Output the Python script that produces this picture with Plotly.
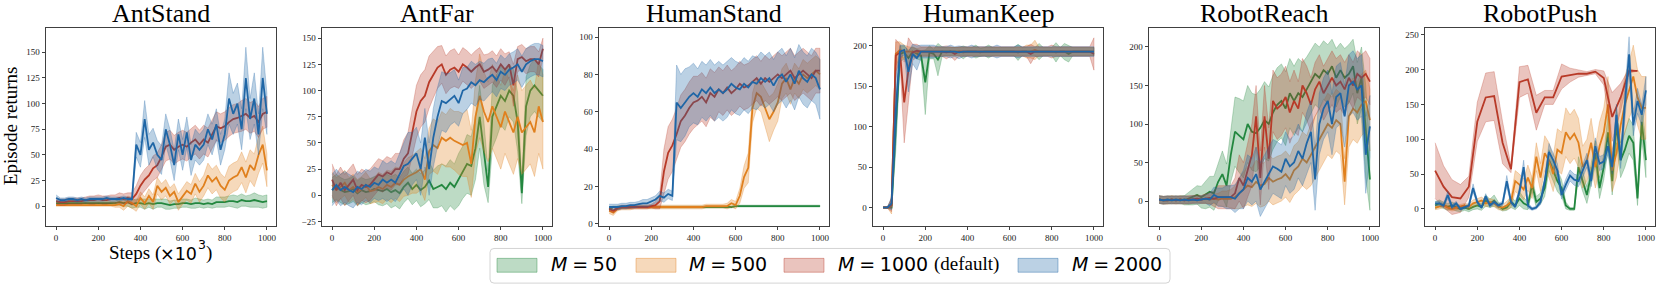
import plotly.graph_objects as go

W, H = 1660, 296

# ---------------- data ----------------
steps = list(range(0, 1001, 20))          # 51 points
steps_push_red = list(range(0, 961, 40))  # 25 points

titles = ["AntStand", "AntFar", "HumanStand", "HumanKeep", "RobotReach", "RobotPush"]
series_names = ["M = 50", "M = 500", "M = 1000 (default)", "M = 2000"]

# AntStand
antstand_m50 = [3,3,3,3,3,3,3,3,3,3, 3,3,3,3,3,4,3,4,2,3, 3,2,3,2,3,3,2,1,2,2, 3,3,2,3,3,2,3,2,4,4, 4,5,5,4,6,5,5,6,5,4,5]
antstand_m50_sd = [2,2,2,2,2,2,2,2,2,2, 2,2,2,2,2,3,3,4,4,4, 4,5,4,5,4,4,5,4,4,4, 4,4,4,5,4,4,4,4,5,5, 5,5,6,6,6,5,6,7,6,6,6]
antstand_m500 = [1,1,1,1,1,1,1,1,1,1, 1,1,1,1,1,2,0,5,3,0, 8,3,10,4,20,14,18,10,14,4, 10,15,12,22,14,20,30,24,28,20, 16,25,28,30,38,28,40,35,50,60,35]
antstand_m500_sd = [1,1,1,1,1,1,1,1,1,1, 1,1,1,1,2,3,4,5,5,5, 6,6,7,7,8,8,8,8,8,8, 8,9,9,10,10,10,12,12,12,12, 12,14,14,14,15,15,15,16,18,18,16]
antstand_m1000 = [5,4,4,5,5,5,5,6,6,6, 7,6,6,7,7,8,7,8,7,12, 20,26,30,37,40,48,58,60,55,58, 60,58,62,65,60,65,62,70,78,76, 78,82,85,86,88,90,86,88,82,90,92]
antstand_m1000_sd = [3,3,3,3,3,3,3,3,4,4, 4,4,4,4,4,5,5,5,6,8, 10,10,10,12,12,12,14,14,14,14, 14,14,14,14,14,14,14,14,14,14, 14,14,14,14,15,15,15,15,15,15,15]
antstand_m2000 = [8,6,6,7,7,6,7,6,7,7, 7,7,8,7,7,7,8,7,7,60, 50,85,55,62,50,45,75,60,40,70, 50,72,45,60,55,60,75,65,80,55, 70,105,90,100,75,125,85,105,70,125,90]
antstand_m2000_sd = [3,2,2,2,2,2,2,2,2,2, 2,2,2,2,2,2,2,2,2,12, 12,18,15,14,14,14,15,15,15,15, 15,15,15,15,15,15,15,15,15,15, 15,25,20,20,20,30,20,25,20,30,20]

# AntFar
antfar_m50 = [5,8,5,3,4,6,2,5,3,4, 6,5,4,6,3,5,2,8,12,6, 10,5,8,14,6,8,10,6,12,8, 15,22,30,28,45,75,40,8,75,85, 95,90,100,95,70,2,85,100,105,100,95]
antfar_m50_sd = [12,12,12,12,12,12,12,12,12,12, 12,14,14,14,15,15,15,15,15,15, 15,16,16,18,18,20,20,22,22,22, 25,25,28,28,30,30,30,15,30,30, 28,28,25,25,28,10,28,25,25,25,25]
antfar_m500 = [10,5,8,12,5,8,3,6,10,4, 5,8,6,10,8,12,10,15,18,20, 22,25,15,42,48,45,55,52,55,52, 50,48,50,30,75,95,80,70,85,75, 65,80,70,60,75,60,65,70,60,85,70]
antfar_m500_sd = [12,12,12,12,12,12,12,12,12,12, 12,14,14,14,15,15,16,16,18,18, 20,20,20,22,25,25,25,25,28,28, 30,30,32,32,35,40,38,38,40,40, 40,40,40,40,40,40,40,40,42,45,45]
antfar_m1000 = [15,5,12,5,10,15,5,10,8,10, 15,20,18,22,20,25,25,35,40,60, 80,90,95,108,115,122,125,115,120,122, 118,125,122,118,122,125,118,120,123,118, 125,120,125,105,130,132,128,130,130,125,140]
antfar_m1000_sd = [15,15,15,15,15,15,15,15,15,15, 15,15,15,15,15,15,15,18,20,22, 25,25,25,25,22,20,18,18,18,18, 16,16,16,16,16,16,16,15,15,15, 15,15,12,20,12,12,12,12,12,12,10]
antfar_m2000 = [5,10,5,8,5,3,8,6,10,8, 12,10,15,12,15,12,20,28,30,35, 40,25,55,25,55,75,90,88,92,95, 88,100,102,108,105,110,108,112,115,110, 118,115,120,122,125,118,125,128,130,130,128]
antfar_m2000_sd = [15,15,15,15,15,15,15,15,15,15, 15,15,18,18,18,18,20,22,30,25, 25,25,28,25,28,28,28,28,25,25, 22,22,20,20,20,18,18,18,16,16, 16,15,15,15,15,15,15,15,15,15,15]

# HumanStand
humanstand_m50 = [8,9,9,9,9,9,9,9,9,9, 9,9,9,9,9,9,9,9,9,9, 9,9,9,9,9,9,9,9,9,9, 9.5,9.5,9.5,9.5,9.5,9.5,9.5,9.5,9.5,9.5, 9.5,9.5,9.5,9.5,9.5,9.5,9.5,9.5,9.5,9.5,9.5]
humanstand_m50_sd = [1,0.5,0.5,0.5,0.5,0.5,0.5,0.5,0.5,0.5, 0.5,0.5,0.5,0.5,0.5,0.5,0.5,0.5,0.5,0.5, 0.5,0.5,0.5,0.5,0.5,0.5,0.5,0.5,0.5,0.5, 0.5,0.5,0.5,0.5,0.5,0.5,0.5,0.5,0.5,0.5, 0.5,0.5,0.5,0.5,0.5,0.5,0.5,0.5,0.5,0.5,0.5]
humanstand_m500 = [7,6,8,8.5,8.5,8.5,9,9,9,9, 9,9,9,9,9,9,9,9,9,9, 9,9,9,9.5,9.5,9.5,9.5,9.5,9.5,11, 10,15,25,30,62,70,68,62,56,60, 65,75,78,72,78,75,80,78,80,82,80]
humanstand_m500_sd = [1.5,1.5,1,1,1,1,1,1,1,1, 1,1,1,1,1,1,1,1,1,1, 1,1,1,1,1,1,1,1,1.5,2, 2,4,6,8,8,8,8,10,12,10, 10,8,8,8,8,8,8,8,8,8,8]
humanstand_m1000 = [8,7,8.5,9,9,9,9,9,9,9, 9.5,10,12,28,38,42,48,55,58,62, 65,66,68,65,70,68,72,70,73,70, 72,75,73,74,76,78,75,78,76,78, 80,78,80,82,78,80,82,80,78,82,82]
humanstand_m1000_sd = [1,1,1,1,1,1,1,1,1,1, 1,2,4,12,14,14,14,14,14,14, 14,13,13,13,13,13,12,12,12,12, 12,12,12,12,12,12,12,12,12,12, 12,12,12,12,12,12,12,12,12,12,12]
humanstand_m2000 = [9,9,9,9.5,9.5,10,10,10.5,11,11, 12,13,15,14,16,15,65,62,65,68, 70,68,72,70,73,70,72,70,72,75, 73,72,75,73,76,75,78,76,78,74, 78,80,76,80,75,82,78,76,80,78,72]
humanstand_m2000_sd = [1.5,1.5,1.5,1.5,1.5,1.5,1.5,1.5,2,2, 2,2,2.5,2.5,2.5,2.5,20,18,18,16, 16,15,15,15,15,15,15,15,15,14, 14,14,14,14,14,14,14,14,14,14, 14,14,14,14,14,14,14,14,14,14,16]

# HumanKeep
humankeep_m50 = [0,0,0,100,190,192,185,193,190,188, 155,192,190,183,193,193,193,193,193,192, 193,193,193,192,193,193,193,193,193,193, 193,193,192,193,193,193,193,193,193,193, 193,192,193,193,190,193,193,193,193,193,193]
humankeep_m50_sd = [0,0,1,30,10,8,10,6,6,6, 40,8,6,20,6,5,5,5,5,8, 5,5,8,5,5,8,5,5,5,5, 5,5,10,5,5,5,5,10,5,5, 5,12,5,10,10,5,5,5,5,5,5]
humankeep_m500 = [0,0,2,190,195,193,193,193,192,193, 193,193,193,193,193,193,193,193,193,193, 193,193,193,193,193,193,193,193,193,193, 193,193,193,193,193,193,195,193,193,193, 193,193,193,193,193,193,193,193,193,193,193]
humankeep_m500_sd = [0,0,10,15,10,8,6,5,5,5, 5,5,5,5,5,5,5,5,5,5, 5,5,5,5,5,5,5,5,5,5, 5,5,5,5,8,8,12,5,5,5, 5,5,5,5,5,5,5,5,5,5,5]
humankeep_m1000 = [0,0,3,188,192,130,170,192,194,193, 193,193,193,193,193,192,193,190,193,193, 193,193,193,193,193,193,193,193,193,193, 193,193,193,193,193,190,193,193,193,193, 193,193,193,193,193,193,193,193,193,193,190]
humankeep_m1000_sd = [0,1,8,20,10,50,40,10,8,6, 6,6,6,6,6,8,6,8,6,6, 6,6,6,6,6,6,6,6,6,6, 6,6,6,6,6,12,6,6,6,6, 8,6,6,6,6,6,6,6,6,6,20]
humankeep_m2000 = [0,0,5,120,193,195,168,190,185,193, 193,193,193,193,193,193,193,193,192,193, 193,193,193,193,193,193,193,193,193,193, 193,193,193,193,193,193,193,193,193,193, 193,193,193,193,193,193,193,193,193,193,193]
humankeep_m2000_sd = [0,0,8,40,8,6,25,12,15,8, 8,8,8,6,6,6,8,6,8,6, 6,8,6,6,6,6,6,8,6,6, 6,6,8,6,6,6,6,6,6,6, 6,6,6,6,6,6,6,6,6,6,6]

# RobotReach
robotreach_m50 = [2,1,1,2,1,2,1,3,5,8, 5,8,12,10,25,35,20,60,90,85, 80,100,90,88,95,105,100,115,125,130, 120,140,130,140,135,145,155,165,160,170, 165,175,160,170,160,165,175,140,160,90,28]
robotreach_m50_sd = [5,5,5,5,5,5,6,8,10,12, 14,18,20,22,25,30,28,35,45,48, 50,50,50,50,50,50,48,48,48,48, 48,45,45,45,45,42,42,40,40,38, 38,35,38,35,38,38,35,40,40,60,40]
robotreach_m500 = [2,1,2,1,2,1,2,1,2,1, 2,3,2,3,2,3,3,3,5,10, 15,20,18,25,20,22,30,25,28,30, 35,28,40,45,55,50,60,70,80,90, 100,95,105,100,25,110,120,115,125,130,105]
robotreach_m500_sd = [5,5,5,5,5,5,5,5,5,5, 5,6,6,6,8,10,10,12,15,20, 22,25,25,28,28,28,30,30,30,30, 30,30,32,32,35,35,40,40,40,40, 40,40,40,40,30,40,40,40,40,40,40]
robotreach_m1000 = [2,1,1,2,1,2,1,2,2,3, 2,3,4,3,5,5,5,5,10,30, 20,40,60,110,30,110,55,130,120,125, 135,115,130,120,150,140,125,145,155,140, 150,160,150,155,145,160,150,165,160,165,155]
robotreach_m1000_sd = [5,5,5,5,5,5,5,5,5,5, 5,6,8,10,15,15,15,15,20,30, 30,35,40,40,35,40,40,40,40,40, 40,40,40,35,35,35,35,35,35,35, 35,35,35,35,35,30,30,30,30,30,30]
robotreach_m2000 = [2,1,2,1,2,1,2,1,2,1, 2,3,2,8,5,5,5,5,3,10, 15,30,25,35,15,25,35,45,42,38, 55,45,50,65,55,75,90,28,100,120, 130,100,135,140,110,150,155,145,150,60,97]
robotreach_m2000_sd = [5,5,5,5,5,5,5,5,5,5, 5,6,8,10,12,12,15,15,18,20, 25,30,30,35,35,35,35,35,35,35, 35,35,35,35,35,40,40,40,40,40, 40,40,40,40,40,40,40,40,40,50,40]

# RobotPush
robotpush_m50 = [5,8,5,3,5,2,0,2,0,3, 5,3,12,8,12,5,0,2,10,5, 15,8,5,35,10,15,30,70,55,40, 30,5,0,0,60,40,20,50,80,30, 60,110,40,120,70,85,105,95,15,125,70]
robotpush_m50_sd = [5,5,5,5,5,5,4,4,4,4, 5,5,8,6,8,5,3,4,8,6, 10,8,6,10,8,8,12,15,15,15, 12,5,2,2,15,15,12,15,18,15, 18,25,20,25,25,25,25,25,10,25,25]
robotpush_m500 = [2,3,5,2,0,2,3,5,3,8, 10,12,8,10,8,3,2,5,10,40, 35,28,45,30,75,45,80,70,50,85, 80,110,100,108,95,60,70,95,60,90, 110,150,55,80,120,150,170,190,160,145,145]
robotpush_m500_sd = [3,3,3,3,3,3,3,3,4,5, 5,5,5,5,5,4,4,6,8,15, 15,15,18,15,20,20,25,25,25,30, 30,35,35,35,35,30,30,35,30,35, 35,40,30,35,35,40,40,45,40,45,45]
robotpush_m1000 = [55,32,17,15,32,125,160,162,95,57, 182,186,138,160,160,190,192,194,194,197, 188,132,160,198,198]
robotpush_m1000_sd = [40,30,25,20,15,28,35,35,30,5, 22,20,25,10,10,18,10,5,3,3, 10,35,20,3,0]
robotpush_m2000 = [8,8,5,20,3,8,0,2,5,30, 10,2,18,5,10,5,8,40,10,3, 25,60,5,0,2,10,40,82,70,55, 20,35,48,42,40,55,70,40,90,65, 68,90,60,135,70,150,222,120,155,135,170]
robotpush_m2000_sd = [3,3,3,5,3,3,2,2,3,6, 3,2,4,3,3,3,3,8,4,2, 6,10,4,2,2,4,6,12,10,10, 6,8,8,8,8,10,10,8,12,10, 10,12,10,15,12,18,25,15,18,15,20]

y_tickvals = [
    [0, 25, 50, 75, 100, 125, 150],
    [-25, 0, 25, 50, 75, 100, 125, 150],
    [0, 20, 40, 60, 80, 100],
    [0, 50, 100, 150, 200],
    [0, 50, 100, 150, 200],
    [0, 50, 100, 150, 200, 250],
]
x_tickvals = [0, 200, 400, 600, 800, 1000]

# ---------------- styling ----------------
line_colors = ["#23873f", "#e0801e", "#b83a28", "#1f66a6"]
rgb = [(35, 135, 63), (224, 128, 30), (184, 58, 40), (31, 102, 166)]
y_ranges = [[-19, 174], [-29, 160], [-1, 105], [-22.5, 222.5], [-32, 225], [-24, 260]]
x_range = [-48, 1043]
panel_left_px = [46, 322, 599, 873, 1149, 1425]
panel_w_px = 230
top_px, bottom_px = 28, 228

panel_data = [
    [(steps, antstand_m50, antstand_m50_sd), (steps, antstand_m500, antstand_m500_sd),
     (steps, antstand_m1000, antstand_m1000_sd), (steps, antstand_m2000, antstand_m2000_sd)],
    [(steps, antfar_m50, antfar_m50_sd), (steps, antfar_m500, antfar_m500_sd),
     (steps, antfar_m1000, antfar_m1000_sd), (steps, antfar_m2000, antfar_m2000_sd)],
    [(steps, humanstand_m50, humanstand_m50_sd), (steps, humanstand_m500, humanstand_m500_sd),
     (steps, humanstand_m1000, humanstand_m1000_sd), (steps, humanstand_m2000, humanstand_m2000_sd)],
    [(steps, humankeep_m50, humankeep_m50_sd), (steps, humankeep_m500, humankeep_m500_sd),
     (steps, humankeep_m1000, humankeep_m1000_sd), (steps, humankeep_m2000, humankeep_m2000_sd)],
    [(steps, robotreach_m50, robotreach_m50_sd), (steps, robotreach_m500, robotreach_m500_sd),
     (steps, robotreach_m1000, robotreach_m1000_sd), (steps, robotreach_m2000, robotreach_m2000_sd)],
    [(steps, robotpush_m50, robotpush_m50_sd), (steps, robotpush_m500, robotpush_m500_sd),
     (steps_push_red, robotpush_m1000, robotpush_m1000_sd), (steps, robotpush_m2000, robotpush_m2000_sd)],
]

SERIF = "Liberation Serif, Times New Roman, serif"
SANS = "DejaVu Sans, sans-serif"

fig = go.Figure()
layout = dict(
    width=W, height=H, margin=dict(l=0, r=0, t=0, b=0),
    paper_bgcolor="white", plot_bgcolor="white", showlegend=False,
)

def px_x(p):
    return p / W

def px_y(p):
    return 1 - p / H

annotations = []
shapes = []

def add_text(text, x, y, family, size, xanchor="center", angle=0):
    annotations.append(dict(
        text=text, x=px_x(x), y=px_y(y), xref="paper", yref="paper",
        xanchor=xanchor, yanchor="middle", showarrow=False, textangle=angle,
        borderpad=0, borderwidth=0,
        font=dict(family=family, size=size, color="black")))

for i in range(6):
    k = i + 1
    xs = "x" if k == 1 else f"x{k}"
    ys = "y" if k == 1 else f"y{k}"
    for j, (xv, mean, sd) in enumerate(panel_data[i]):
        r, g, b = rgb[j]
        upper = [m + s for m, s in zip(mean, sd)]
        lower = [m - s for m, s in zip(mean, sd)]
        fig.add_trace(go.Scatter(
            x=list(xv) + list(xv)[::-1], y=upper + lower[::-1],
            fill="toself", fillcolor=f"rgba({r},{g},{b},0.3)",
            line=dict(color=f"rgba({r},{g},{b},0.35)", width=0.8),
            mode="lines", hoverinfo="skip", xaxis=xs, yaxis=ys))
        fig.add_trace(go.Scatter(
            x=xv, y=mean, mode="lines",
            line=dict(color=line_colors[j], width=1.8),
            name=series_names[j], xaxis=xs, yaxis=ys))

    x0 = panel_left_px[i]
    x1 = x0 + panel_w_px
    axis_common = dict(
        showline=True, linecolor="#404040", linewidth=1, mirror=True,
        showgrid=False, zeroline=False, ticks="outside", ticklen=3.5,
        tickwidth=1, tickcolor="#404040",
        tickfont=dict(family=SERIF, size=9, color="#222"),
    )
    layout["xaxis" if k == 1 else f"xaxis{k}"] = dict(
        domain=[px_x(x0), px_x(x1)], range=x_range, tickvals=x_tickvals,
        anchor=ys, **axis_common)
    layout["yaxis" if k == 1 else f"yaxis{k}"] = dict(
        domain=[px_y(bottom_px), px_y(top_px)], range=y_ranges[i],
        tickvals=y_tickvals[i], anchor=xs, **axis_common)
    add_text(titles[i], (x0 + x1) / 2, 14, SERIF, 26)

# axis titles (first panel)
add_text("Episode returns", 10.5, 127, SERIF, 19, angle=-90)
add_text("Steps (", 160.5, 256, SERIF, 19, xanchor="right")
add_text("×10", 160, 256.5, SANS, 17.5, xanchor="left")
add_text("3", 197.5, 247, SANS, 12.5, xanchor="left")
add_text(")", 205.5, 256, SERIF, 19, xanchor="left")

# legend (drawn as a framed row of patches)
lx0, lx1, ly0, ly1, rad = 490, 1170, 251, 286, 4
path = (f"M {px_x(lx0+rad)} {px_y(ly0)} L {px_x(lx1-rad)} {px_y(ly0)} "
        f"Q {px_x(lx1)} {px_y(ly0)} {px_x(lx1)} {px_y(ly0+rad)} "
        f"L {px_x(lx1)} {px_y(ly1-rad)} Q {px_x(lx1)} {px_y(ly1)} {px_x(lx1-rad)} {px_y(ly1)} "
        f"L {px_x(lx0+rad)} {px_y(ly1)} Q {px_x(lx0)} {px_y(ly1)} {px_x(lx0)} {px_y(ly1-rad)} "
        f"L {px_x(lx0)} {px_y(ly0+rad)} Q {px_x(lx0)} {px_y(ly0)} {px_x(lx0+rad)} {px_y(ly0)} Z")
shapes.append(dict(type="path", path=path, xref="paper", yref="paper",
                   line=dict(color="#d4d4d4", width=1), fillcolor="white", layer="above"))
patch_x = [497, 636, 784, 1018]
text_x = [551, 689, 838, 1072]
sp = "\u2005"
legend_texts = [
    f"<i>M</i>{sp}={sp}50",
    f"<i>M</i>{sp}={sp}500",
    f"<i>M</i>{sp}={sp}1000",
    f"<i>M</i>{sp}={sp}2000",
]
for j in range(4):
    r, g, b = rgb[j]
    shapes.append(dict(type="rect", xref="paper", yref="paper",
                       x0=px_x(patch_x[j]), x1=px_x(patch_x[j] + 40),
                       y0=px_y(275), y1=px_y(261),
                       fillcolor=f"rgba({r},{g},{b},0.3)",
                       line=dict(color=f"rgba({r},{g},{b},0.4)", width=1), layer="above"))
    add_text(legend_texts[j], text_x[j], 266.5, SANS, 19, xanchor="left")
add_text("(default)", 934, 266.5, SERIF, 19, xanchor="left")

layout["annotations"] = annotations
layout["shapes"] = shapes
fig.update_layout(**layout)
fig.write_html("out.html", config={"displayModeBar": False},
               post_script="document.body.style.margin='0';document.body.style.padding='0';")
